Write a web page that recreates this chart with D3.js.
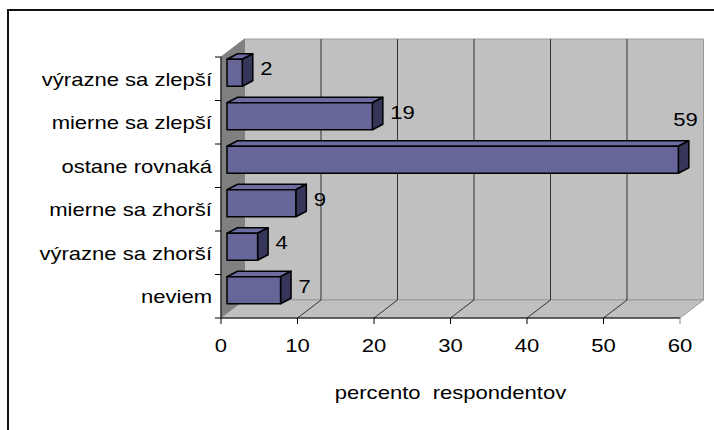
<!DOCTYPE html>
<html>
<head>
<meta charset="utf-8">
<script src="https://cdn.jsdelivr.net/npm/d3@7"></script>
<style>
  body { margin: 0; background: #fff; }
  svg { display: block; font-family: "Liberation Sans", Arial, sans-serif; }
</style>
</head>
<body>
<div id="chart"></div>
<script>
// Chart data
const categories = ['výrazne sa zlepší', 'mierne sa zlepší', 'ostane rovnaká', 'mierne sa zhorší', 'výrazne sa zhorší', 'neviem'];
const values = [2, 19, 59, 9, 4, 7];
const xTicks = [0, 10, 20, 30, 40, 50, 60];
const axisTitle = 'percento\u00a0 respondentov';

const width = 714, height = 430;
const fontSize = 19, stretch = 1.16;

// Front plane of the plot and the 3D depth vectors
const plot = { left: 221, right: 680, top: 57, bottom: 318 };
const wallDepth = [23.5, -18];   // front plane -> back wall
const barShift = [6, -6];        // front plane -> bar front face
const barDepth = [10.5, -5.5];   // bar front face -> bar back face

const svg = d3.select('#chart').append('svg')
    .attr('width', width)
    .attr('height', height);

// Outer chart border (runs off the right and bottom edges)
svg.append('rect')
    .attr('x', 8).attr('y', 10)
    .attr('width', 800).attr('height', 600)
    .attr('fill', 'none')
    .attr('stroke', '#111')
    .attr('stroke-width', 2);

const x = d3.scaleLinear().domain([0, 60]).range([plot.left, plot.right]);
const y = d3.scaleBand().domain(categories).range([plot.top, plot.bottom])
    .paddingInner(0.38).paddingOuter(0.19);

const [wdx, wdy] = wallDepth;
const pts = arr => arr.map(p => p.join(',')).join(' ');

// Back wall
svg.append('polygon')
    .attr('points', pts([
        [x(0) + wdx, plot.top + wdy], [x(60) + wdx, plot.top + wdy],
        [x(60) + wdx, plot.bottom + wdy], [x(0) + wdx, plot.bottom + wdy]
    ]))
    .attr('fill', '#c0c0c0')
    .attr('stroke', '#999')
    .attr('stroke-width', 1);

// Side wall
svg.append('polygon')
    .attr('points', pts([
        [x(0), plot.top], [x(0) + wdx, plot.top + wdy],
        [x(0) + wdx, plot.bottom + wdy], [x(0), plot.bottom]
    ]))
    .attr('fill', '#808080')
    .attr('stroke', '#808080')
    .attr('stroke-width', 1);

// Floor
svg.append('polygon')
    .attr('points', pts([
        [x(0), plot.bottom], [x(60), plot.bottom],
        [x(60) + wdx, plot.bottom + wdy], [x(0) + wdx, plot.bottom + wdy]
    ]))
    .attr('fill', '#c0c0c0')
    .attr('stroke', '#999')
    .attr('stroke-width', 1);

// Gridlines on the back wall and across the floor
const inner = xTicks.filter(t => t > 0 && t < 60);
svg.append('g').selectAll('line')
    .data(inner)
    .join('line')
    .attr('x1', d => x(d) + wdx).attr('x2', d => x(d) + wdx)
    .attr('y1', plot.top + wdy).attr('y2', plot.bottom + wdy)
    .attr('stroke', '#333').attr('stroke-width', 1);

svg.append('g').selectAll('line')
    .data(inner)
    .join('line')
    .attr('x1', d => x(d)).attr('y1', plot.bottom)
    .attr('x2', d => x(d) + wdx).attr('y2', plot.bottom + wdy)
    .attr('stroke', '#333').attr('stroke-width', 1);

// Axes
svg.append('line')
    .attr('x1', x(0)).attr('x2', x(0))
    .attr('y1', plot.top).attr('y2', plot.bottom)
    .attr('stroke', '#000').attr('stroke-width', 1);

svg.append('line')
    .attr('x1', x(0)).attr('x2', x(60))
    .attr('y1', plot.bottom).attr('y2', plot.bottom)
    .attr('stroke', '#000').attr('stroke-width', 1);

// Category tick marks at band edges
const step = y.step();
svg.append('g').selectAll('line')
    .data(d3.range(categories.length + 1))
    .join('line')
    .attr('x1', x(0) - 6).attr('x2', x(0))
    .attr('y1', i => plot.top + i * step).attr('y2', i => plot.top + i * step)
    .attr('stroke', '#000').attr('stroke-width', 1);

// Value tick marks
svg.append('g').selectAll('line')
    .data(xTicks)
    .join('line')
    .attr('x1', d => x(d)).attr('x2', d => x(d))
    .attr('y1', plot.bottom).attr('y2', plot.bottom + 6)
    .attr('stroke', d => d === 60 ? '#888' : '#000').attr('stroke-width', 1);

// Text helper with the chart's horizontal stretch
function label(xp, yp, txt, anchor) {
    return svg.append('text')
        .attr('transform', `translate(${xp},${yp}) scale(${stretch},1)`)
        .attr('text-anchor', anchor)
        .attr('font-size', fontSize)
        .attr('fill', '#000')
        .text(txt);
}

// Category labels
categories.forEach(c => {
    label(x(0) - 9, plot.top + categories.indexOf(c) * step + step / 2 + 7, c, 'end');
});

// Value tick labels
xTicks.forEach(t => label(x(t), 352, t, 'middle'));

// Axis title
label((x(0) + x(60)) / 2, 399, axisTitle, 'middle');

// 3D bars
const [bsx, bsy] = barShift;
const [bdx, bdy] = barDepth;
const bars = svg.append('g');
categories.forEach((c, i) => {
    const v = values[i];
    const x0 = x(0) + bsx, x1 = x(v) + bsx;
    const y0 = y(c) + bsy, y1 = y0 + y.bandwidth();
    const g = bars.append('g')
        .attr('stroke', '#000')
        .attr('stroke-width', 1.5)
        .attr('stroke-linejoin', 'round');
    // top face
    g.append('polygon')
        .attr('points', pts([[x0, y0], [x1, y0], [x1 + bdx, y0 + bdy], [x0 + bdx, y0 + bdy]]))
        .attr('fill', '#6c6ca3');
    // right face
    g.append('polygon')
        .attr('points', pts([[x1, y0], [x1 + bdx, y0 + bdy], [x1 + bdx, y1 + bdy], [x1, y1]]))
        .attr('fill', '#36365a');
    // front face
    g.append('rect')
        .attr('x', x0).attr('y', y0)
        .attr('width', x1 - x0).attr('height', y1 - y0)
        .attr('fill', '#666699');

    // value label: right of the bar, or above it when it would leave the wall
    const lx = x1 + 18;
    if (lx + 25 > x(60) + wdx) {
        label(x1 + bdx + 9, y0 + bdy - 15, v, 'end');
    } else {
        label(lx, (y0 + y1) / 2 + 2.5, v, 'start');
    }
});
</script>
</body>
</html>
